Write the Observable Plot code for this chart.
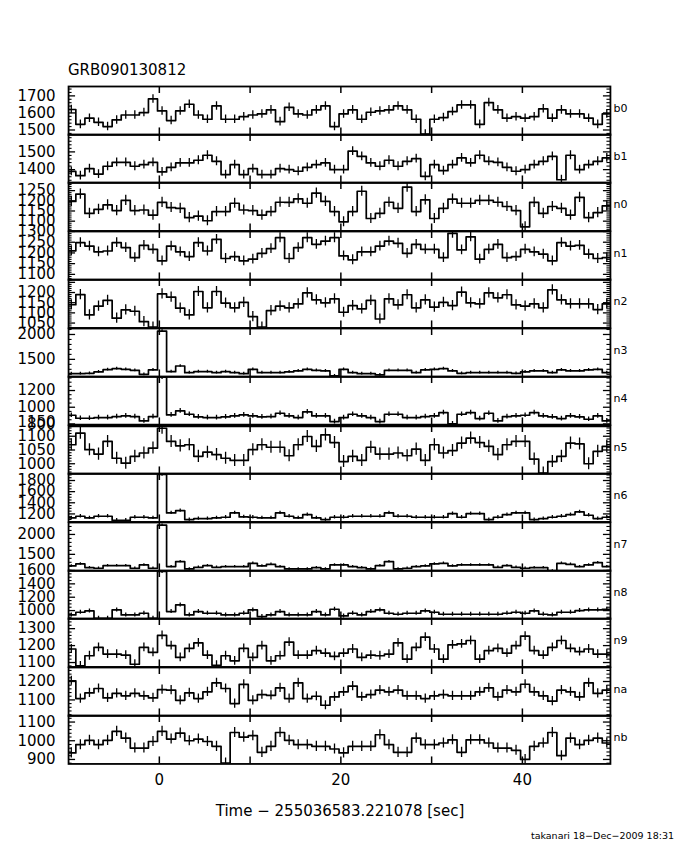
<!DOCTYPE html>
<html>
<head>
<meta charset="utf-8">
<script src="https://cdn.jsdelivr.net/npm/d3@7"></script>
<script src="https://cdn.jsdelivr.net/npm/@observablehq/plot@0.6"></script>
<style>
  body { margin: 0; background: #fff; }
  #chart { position: relative; width: 680px; height: 850px; background: #fff; color: #000;
           font-family: "DejaVu Sans", sans-serif; }
  .panel { position: absolute; left: 0; }
  .title { position: absolute; left: 68px; top: 60px; font-size: 15px; line-height: 20px; }
  .xtitle { position: absolute; left: 0; width: 680px; text-align: center; top: 801px; font-size: 15px; line-height: 20px; }
  .footer { position: absolute; right: 6px; top: 830px; font-size: 9.5px; line-height: 12px; }
</style>
</head>
<body>
<div id="chart">
  <div class="title">GRB090130812</div>
  <div class="xtitle">Time − 255036583.221078 [sec]</div>
  <div class="footer">takanari 18−Dec−2009 18:31</div>
</div>
<script>
// ---- data (1 s bins, bin k starts at k - 0.2 s, k = -10 ... 49) ----
const binLeft = d3.range(-10, 50).map(k => k - 0.2);
const binWidth = 1;

const detectors = ["b0","b1","n0","n1","n2","n3","n4","n5","n6","n7","n8","n9","na","nb"];

const b0 = [1620,1533,1569,1545,1520,1559,1588,1588,1602,1682,
            1612,1555,1612,1651,1588,1563,1641,1563,1563,1578,
            1588,1594,1618,1549,1633,1594,1588,1618,1641,1520,
            1594,1618,1563,1604,1612,1618,1641,1618,1563,1476,
            1563,1573,1608,1647,1647,1533,1661,1618,1569,1578,
            1569,1578,1624,1569,1618,1594,1594,1569,1533,1594];
const b1 = [1390,1366,1406,1375,1419,1441,1441,1419,1428,1441,
            1387,1413,1438,1438,1453,1481,1447,1372,1428,1372,
            1406,1372,1372,1406,1400,1391,1413,1428,1438,1400,
            1400,1504,1475,1438,1419,1453,1419,1447,1462,1362,
            1428,1394,1428,1466,1438,1481,1447,1441,1413,1391,
            1400,1428,1447,1475,1343,1481,1400,1428,1447,1466];
const n0 = [1197,1233,1138,1158,1180,1152,1202,1152,1155,1130,
            1192,1167,1163,1117,1125,1102,1147,1147,1188,1155,
            1152,1130,1147,1193,1192,1210,1188,1238,1197,1147,
            1097,1147,1247,1113,1138,1193,1163,1267,1147,1205,
            1113,1163,1208,1188,1188,1202,1202,1193,1172,1152,
            1072,1192,1138,1172,1163,1130,1217,1117,1142,1175];
const n1 = [1210,1248,1232,1205,1209,1248,1225,1178,1235,1217,
            1163,1232,1205,1183,1248,1209,1263,1174,1183,1163,
            1171,1198,1220,1271,1174,1225,1271,1240,1255,1271,
            1186,1168,1205,1205,1232,1255,1245,1198,1240,1217,
            1217,1178,1291,1214,1275,1171,1217,1240,1178,1183,
            1217,1205,1194,1163,1248,1232,1235,1194,1174,1178];
const n2 = [1140,1190,1090,1133,1161,1074,1115,1108,1057,1030,
            1193,1177,1123,1090,1205,1125,1205,1148,1125,1152,
            1082,1030,1111,1133,1125,1144,1198,1164,1149,1169,
            1103,1136,1120,1161,1070,1169,1139,1189,1125,1164,
            1128,1152,1136,1202,1149,1144,1198,1174,1189,1139,
            1133,1144,1125,1213,1164,1144,1144,1144,1116,1144];
const n3 = [1213,1213,1220,1247,1293,1313,1300,1280,1200,1287,
            2067,1253,1367,1233,1253,1253,1233,1253,1233,1213,
            1300,1233,1233,1233,1247,1267,1300,1280,1267,1167,
            1300,1233,1213,1213,1187,1280,1280,1280,1233,1287,
            1300,1313,1267,1220,1233,1233,1233,1233,1233,1220,
            1247,1267,1267,1233,1287,1267,1267,1287,1300,1233];
const n4 = [904,868,868,876,876,888,896,888,836,888,
            1360,908,956,916,884,876,876,884,896,908,
            896,884,888,928,896,876,944,896,896,828,
            876,916,896,876,828,916,916,876,876,888,
            896,936,800,916,936,864,928,836,888,896,
            904,936,896,884,864,896,884,856,896,836];
const n5 = [1069,1111,1051,1035,1081,1020,1002,1027,1039,1057,
            1129,1081,1065,1069,1027,1042,1033,1020,1012,1012,
            1051,1069,1060,1060,1029,1069,1099,1063,1105,1077,
            1008,1027,1012,1060,1035,1035,1039,1029,1053,1012,
            1069,1039,1048,1075,1093,1077,1063,1033,1069,1081,
            1081,1017,966,1008,1027,1075,1072,1000,1045,1063];
const n6 = [1128,1158,1128,1158,1158,1086,1086,1140,1140,1128,
            1908,1218,1260,1098,1116,1116,1128,1140,1218,1146,
            1140,1128,1128,1218,1158,1128,1188,1128,1098,1140,
            1140,1158,1158,1158,1158,1218,1158,1158,1140,1140,
            1140,1140,1206,1140,1206,1206,1098,1140,1188,1218,
            1218,1098,1116,1140,1158,1188,1236,1176,1116,1140];
const n7 = [1208,1258,1167,1150,1217,1217,1217,1150,1233,1150,
            2233,1192,1317,1133,1175,1217,1175,1192,1192,1192,
            1275,1208,1250,1192,1133,1133,1133,1167,1133,1233,
            1233,1192,1167,1133,1217,1317,1133,1150,1192,1208,
            1258,1275,1208,1233,1233,1233,1233,1175,1217,1175,
            1150,1167,1167,1083,1275,1250,1192,1233,1292,1192];
const n8 = [935,975,995,885,885,1010,935,935,960,885,
            1585,985,1085,935,985,960,960,935,935,960,
            1010,910,935,985,935,935,935,985,935,1020,
            920,960,935,985,1010,960,945,960,960,995,
            975,945,945,945,945,945,945,945,960,975,
            960,995,945,935,975,975,1000,1010,1010,1020];
const n9 = [1180,1080,1140,1190,1150,1150,1144,1090,1190,1160,
            1260,1200,1130,1184,1216,1144,1084,1140,1110,1184,
            1130,1200,1110,1140,1220,1144,1144,1170,1156,1136,
            1156,1180,1130,1144,1140,1150,1216,1120,1190,1250,
            1180,1120,1204,1210,1230,1120,1170,1184,1156,1200,
            1256,1170,1144,1190,1230,1184,1164,1180,1150,1150];
const na = [1204,1107,1138,1162,1111,1135,1122,1135,1122,1111,
            1156,1153,1098,1138,1107,1144,1193,1162,1080,1184,
            1098,1129,1125,1165,1107,1193,1107,1120,1071,1116,
            1144,1175,1116,1129,1153,1144,1153,1122,1122,1107,
            1122,1129,1122,1122,1122,1144,1165,1116,1153,1144,
            1185,1144,1122,1093,1153,1144,1116,1193,1135,1153];
const nb = [935,979,1002,979,1002,1050,1014,961,961,996,
            1050,1009,1041,1000,1009,996,970,881,1044,1019,
            1027,938,970,1044,1002,979,979,970,970,956,
            935,970,970,970,1032,979,938,938,1014,979,
            979,988,1005,938,1005,1005,988,961,961,949,
            900,970,988,1044,920,1014,979,1002,1014,988];

// one-sigma error per panel (counts/s)
const errors = [25,25,25,23,25,27,28,22,30,30,30,26,25,27];

// y ranges of each panel
const yDomains = [[1471,1755],[1325,1598],[1052,1290],[1074,1300],[1026,1264],[1147,2120],[788,1368],
                  [963,1139],[1056,1926],[1083,2300],[875,1600],[1074,1360],[1013,1276],[876,1135]];
// labelled y ticks
const yLabels = [[1500,1600,1700],[1400,1500],[1100,1150,1200,1250],[1100,1150,1200,1250,1300],
                 [1050,1100,1150,1200],[1500,2000],[800,1000,1200],[1000,1050,1100,1150],
                 [1200,1400,1600,1800],[1500,2000],[1000,1200,1400,1600],[1100,1200,1300],
                 [1100,1200],[900,1000,1100]];
const yMajorStep = [100,100,50,50,50,500,200,50,200,500,200,100,100,100];
const yMinorStep = [20,20,10,10,10,100,50,10,50,100,50,20,20,20];

const xDomain = [-10, 49.7];
const xTickValues = [0, 10, 20, 30, 40];
const xTickLabels = [0, 20, 40];

const series = [b0,b1,n0,n1,n2,n3,n4,n5,n6,n7,n8,n9,na,nb];

// ---- layout ----
const W = 680, ML = 68, MR = 70;
const TOP = 85.5, PH = 48.45;
const innerW = W - ML - MR;
const chart = document.getElementById("chart");
const plain = d => String(d);

detectors.forEach((name, i) => {
  const vals = series[i];
  const [lo, hi] = yDomains[i];
  const inDom = v => v >= lo - 1e-9 && v <= hi + 1e-9;
  const majors = d3.range(Math.ceil(lo / yMajorStep[i]) * yMajorStep[i], hi + 1e-9, yMajorStep[i]);
  const minors = d3.range(Math.ceil(lo / yMinorStep[i]) * yMinorStep[i], hi + 1e-9, yMinorStep[i])
                   .filter(v => !majors.some(m => Math.abs(m - v) < 1e-6));
  const steps = vals.map((v, j) => ({t: binLeft[j], v}));
  steps.push({t: binLeft[vals.length - 1] + binWidth, v: vals[vals.length - 1]});
  const errs = vals.map((v, j) => ({t: binLeft[j] + binWidth / 2, lo: v - errors[i], hi: v + errors[i]}));
  const last = i === detectors.length - 1;

  const marks = [
    Plot.line(steps, {x: "t", y: "v", curve: "step-after", stroke: "#000", strokeWidth: 1.7, clip: true}),
    Plot.ruleX(errs, {x: "t", y1: "lo", y2: "hi", stroke: "#000", strokeWidth: 1.3, clip: true}),
    Plot.tickY(majors.filter(inDom), {y: d => d, insetRight: innerW - 7, stroke: "#000", strokeWidth: 1.3}),
    Plot.tickY(majors.filter(inDom), {y: d => d, insetLeft: innerW - 7, stroke: "#000", strokeWidth: 1.3}),
    Plot.tickY(minors, {y: d => d, insetRight: innerW - 3.5, stroke: "#000", strokeWidth: 1.1}),
    Plot.tickY(minors, {y: d => d, insetLeft: innerW - 3.5, stroke: "#000", strokeWidth: 1.1}),
    Plot.tickX(xTickValues, {x: d => d, insetBottom: PH - 7, stroke: "#000", strokeWidth: 1.5}),
    Plot.tickX(xTickValues, {x: d => d, insetTop: PH - 7, stroke: "#000", strokeWidth: 1.5}),
    Plot.axisY(yLabels[i], {tickSize: 0, tickPadding: 13, fontSize: 15, tickFormat: plain, label: null}),
    Plot.text([name], {frameAnchor: "right", dx: 3, dy: -2, textAnchor: "start", fontSize: 11, fill: "#000"}),
    Plot.frame({stroke: "#000", strokeWidth: 1.8})
  ];
  if (name === "n5") marks.push(Plot.ruleY([hi], {stroke: "#000", strokeWidth: 3.5}));
  if (last) marks.push(Plot.axisX(xTickLabels, {tickSize: 0, tickPadding: 10, fontSize: 15, tickFormat: plain, label: null}));

  const svg = Plot.plot({
    width: W, height: PH,
    marginLeft: ML, marginRight: MR, marginTop: 0, marginBottom: 0,
    x: {domain: xDomain, label: null, ...(last ? {} : {axis: null})},
    y: {domain: [lo, hi], label: null},
    style: {overflow: "visible", background: "transparent", color: "#000",
            fontFamily: '"DejaVu Sans", sans-serif', fontSize: "15px"},
    marks
  });
  svg.classList.add("panel");
  svg.style.top = (TOP + i * PH) + "px";
  svg.style.position = "absolute";
  svg.style.left = "0px";
  chart.appendChild(svg);
});
</script>
</body>
</html>
